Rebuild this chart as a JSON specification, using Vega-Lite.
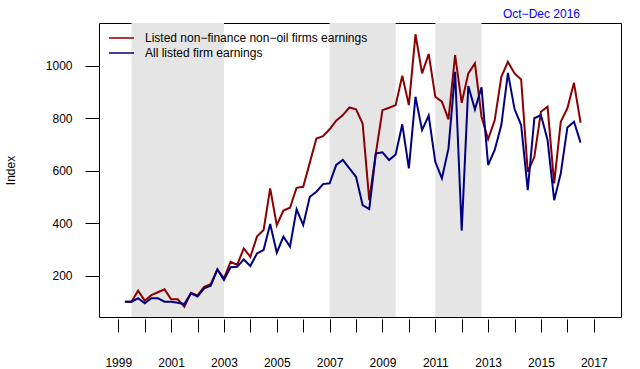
{
  "$schema": "https://vega.github.io/schema/vega-lite/v6.json",
  "width": 522,
  "height": 294,
  "autosize": {"type": "none"},
  "padding": {"left": 99, "top": 23, "right": 19, "bottom": 52},
  "background": "white",
  "config": {"view": {"stroke": "black", "strokeWidth": 1}, "font": "Liberation Sans"},
  "title": {"text": "Oct−Dec 2016", "anchor": "end", "color": "#0000FF", "fontSize": 12, "fontWeight": "normal", "font": "Liberation Sans", "baseline": "bottom", "offset": 4, "dx": -41, "dy": 14},
  "datasets": {
    "shade": [
      {"start": 1999.5, "end": 2003.0},
      {"start": 2007.0, "end": 2009.5},
      {"start": 2011.0, "end": 2012.75}
    ],
    "series": [
      {"s": "Listed non−finance non−oil firms earnings", "t": 1999.25, "v": 101},
      {"s": "Listed non−finance non−oil firms earnings", "t": 1999.5, "v": 101},
      {"s": "Listed non−finance non−oil firms earnings", "t": 1999.75, "v": 143},
      {"s": "Listed non−finance non−oil firms earnings", "t": 2000.0, "v": 105},
      {"s": "Listed non−finance non−oil firms earnings", "t": 2000.25, "v": 126},
      {"s": "Listed non−finance non−oil firms earnings", "t": 2000.5, "v": 137},
      {"s": "Listed non−finance non−oil firms earnings", "t": 2000.75, "v": 148},
      {"s": "Listed non−finance non−oil firms earnings", "t": 2001.0, "v": 110},
      {"s": "Listed non−finance non−oil firms earnings", "t": 2001.25, "v": 110},
      {"s": "Listed non−finance non−oil firms earnings", "t": 2001.5, "v": 82},
      {"s": "Listed non−finance non−oil firms earnings", "t": 2001.75, "v": 135},
      {"s": "Listed non−finance non−oil firms earnings", "t": 2002.0, "v": 125},
      {"s": "Listed non−finance non−oil firms earnings", "t": 2002.25, "v": 158},
      {"s": "Listed non−finance non−oil firms earnings", "t": 2002.5, "v": 168},
      {"s": "Listed non−finance non−oil firms earnings", "t": 2002.75, "v": 224},
      {"s": "Listed non−finance non−oil firms earnings", "t": 2003.0, "v": 190},
      {"s": "Listed non−finance non−oil firms earnings", "t": 2003.25, "v": 253},
      {"s": "Listed non−finance non−oil firms earnings", "t": 2003.5, "v": 241},
      {"s": "Listed non−finance non−oil firms earnings", "t": 2003.75, "v": 304},
      {"s": "Listed non−finance non−oil firms earnings", "t": 2004.0, "v": 272},
      {"s": "Listed non−finance non−oil firms earnings", "t": 2004.25, "v": 349},
      {"s": "Listed non−finance non−oil firms earnings", "t": 2004.5, "v": 374},
      {"s": "Listed non−finance non−oil firms earnings", "t": 2004.75, "v": 533},
      {"s": "Listed non−finance non−oil firms earnings", "t": 2005.0, "v": 393},
      {"s": "Listed non−finance non−oil firms earnings", "t": 2005.25, "v": 448},
      {"s": "Listed non−finance non−oil firms earnings", "t": 2005.5, "v": 459},
      {"s": "Listed non−finance non−oil firms earnings", "t": 2005.75, "v": 535},
      {"s": "Listed non−finance non−oil firms earnings", "t": 2006.0, "v": 539},
      {"s": "Listed non−finance non−oil firms earnings", "t": 2006.25, "v": 631},
      {"s": "Listed non−finance non−oil firms earnings", "t": 2006.5, "v": 723},
      {"s": "Listed non−finance non−oil firms earnings", "t": 2006.75, "v": 732},
      {"s": "Listed non−finance non−oil firms earnings", "t": 2007.0, "v": 758},
      {"s": "Listed non−finance non−oil firms earnings", "t": 2007.25, "v": 791},
      {"s": "Listed non−finance non−oil firms earnings", "t": 2007.5, "v": 812},
      {"s": "Listed non−finance non−oil firms earnings", "t": 2007.75, "v": 841},
      {"s": "Listed non−finance non−oil firms earnings", "t": 2008.0, "v": 834},
      {"s": "Listed non−finance non−oil firms earnings", "t": 2008.25, "v": 780},
      {"s": "Listed non−finance non−oil firms earnings", "t": 2008.5, "v": 488},
      {"s": "Listed non−finance non−oil firms earnings", "t": 2008.75, "v": 666},
      {"s": "Listed non−finance non−oil firms earnings", "t": 2009.0, "v": 831},
      {"s": "Listed non−finance non−oil firms earnings", "t": 2009.25, "v": 840},
      {"s": "Listed non−finance non−oil firms earnings", "t": 2009.5, "v": 850},
      {"s": "Listed non−finance non−oil firms earnings", "t": 2009.75, "v": 962},
      {"s": "Listed non−finance non−oil firms earnings", "t": 2010.0, "v": 850},
      {"s": "Listed non−finance non−oil firms earnings", "t": 2010.25, "v": 1120},
      {"s": "Listed non−finance non−oil firms earnings", "t": 2010.5, "v": 971},
      {"s": "Listed non−finance non−oil firms earnings", "t": 2010.75, "v": 1045},
      {"s": "Listed non−finance non−oil firms earnings", "t": 2011.0, "v": 882},
      {"s": "Listed non−finance non−oil firms earnings", "t": 2011.25, "v": 863},
      {"s": "Listed non−finance non−oil firms earnings", "t": 2011.5, "v": 796},
      {"s": "Listed non−finance non−oil firms earnings", "t": 2011.75, "v": 1041},
      {"s": "Listed non−finance non−oil firms earnings", "t": 2012.0, "v": 859},
      {"s": "Listed non−finance non−oil firms earnings", "t": 2012.25, "v": 971},
      {"s": "Listed non−finance non−oil firms earnings", "t": 2012.5, "v": 1009},
      {"s": "Listed non−finance non−oil firms earnings", "t": 2012.75, "v": 806},
      {"s": "Listed non−finance non−oil firms earnings", "t": 2013.0, "v": 720},
      {"s": "Listed non−finance non−oil firms earnings", "t": 2013.25, "v": 793},
      {"s": "Listed non−finance non−oil firms earnings", "t": 2013.5, "v": 958},
      {"s": "Listed non−finance non−oil firms earnings", "t": 2013.75, "v": 1015},
      {"s": "Listed non−finance non−oil firms earnings", "t": 2014.0, "v": 971},
      {"s": "Listed non−finance non−oil firms earnings", "t": 2014.25, "v": 948},
      {"s": "Listed non−finance non−oil firms earnings", "t": 2014.5, "v": 596},
      {"s": "Listed non−finance non−oil firms earnings", "t": 2014.75, "v": 653},
      {"s": "Listed non−finance non−oil firms earnings", "t": 2015.0, "v": 825},
      {"s": "Listed non−finance non−oil firms earnings", "t": 2015.25, "v": 844},
      {"s": "Listed non−finance non−oil firms earnings", "t": 2015.5, "v": 552},
      {"s": "Listed non−finance non−oil firms earnings", "t": 2015.75, "v": 787},
      {"s": "Listed non−finance non−oil firms earnings", "t": 2016.0, "v": 838},
      {"s": "Listed non−finance non−oil firms earnings", "t": 2016.25, "v": 935},
      {"s": "Listed non−finance non−oil firms earnings", "t": 2016.5, "v": 783},
      {"s": "All listed firm earnings", "t": 1999.25, "v": 101},
      {"s": "All listed firm earnings", "t": 1999.5, "v": 101},
      {"s": "All listed firm earnings", "t": 1999.75, "v": 114},
      {"s": "All listed firm earnings", "t": 2000.0, "v": 95},
      {"s": "All listed firm earnings", "t": 2000.25, "v": 114},
      {"s": "All listed firm earnings", "t": 2000.5, "v": 114},
      {"s": "All listed firm earnings", "t": 2000.75, "v": 101},
      {"s": "All listed firm earnings", "t": 2001.0, "v": 101},
      {"s": "All listed firm earnings", "t": 2001.25, "v": 97},
      {"s": "All listed firm earnings", "t": 2001.5, "v": 92},
      {"s": "All listed firm earnings", "t": 2001.75, "v": 133},
      {"s": "All listed firm earnings", "t": 2002.0, "v": 121},
      {"s": "All listed firm earnings", "t": 2002.25, "v": 152},
      {"s": "All listed firm earnings", "t": 2002.5, "v": 162},
      {"s": "All listed firm earnings", "t": 2002.75, "v": 224},
      {"s": "All listed firm earnings", "t": 2003.0, "v": 184},
      {"s": "All listed firm earnings", "t": 2003.25, "v": 232},
      {"s": "All listed firm earnings", "t": 2003.5, "v": 234},
      {"s": "All listed firm earnings", "t": 2003.75, "v": 262},
      {"s": "All listed firm earnings", "t": 2004.0, "v": 237},
      {"s": "All listed firm earnings", "t": 2004.25, "v": 285},
      {"s": "All listed firm earnings", "t": 2004.5, "v": 298},
      {"s": "All listed firm earnings", "t": 2004.75, "v": 397},
      {"s": "All listed firm earnings", "t": 2005.0, "v": 288},
      {"s": "All listed firm earnings", "t": 2005.25, "v": 349},
      {"s": "All listed firm earnings", "t": 2005.5, "v": 311},
      {"s": "All listed firm earnings", "t": 2005.75, "v": 453},
      {"s": "All listed firm earnings", "t": 2006.0, "v": 393},
      {"s": "All listed firm earnings", "t": 2006.25, "v": 501},
      {"s": "All listed firm earnings", "t": 2006.5, "v": 520},
      {"s": "All listed firm earnings", "t": 2006.75, "v": 549},
      {"s": "All listed firm earnings", "t": 2007.0, "v": 552},
      {"s": "All listed firm earnings", "t": 2007.25, "v": 622},
      {"s": "All listed firm earnings", "t": 2007.5, "v": 641},
      {"s": "All listed firm earnings", "t": 2007.75, "v": 609},
      {"s": "All listed firm earnings", "t": 2008.0, "v": 577},
      {"s": "All listed firm earnings", "t": 2008.25, "v": 469},
      {"s": "All listed firm earnings", "t": 2008.5, "v": 454},
      {"s": "All listed firm earnings", "t": 2008.75, "v": 666},
      {"s": "All listed firm earnings", "t": 2009.0, "v": 670},
      {"s": "All listed firm earnings", "t": 2009.25, "v": 641},
      {"s": "All listed firm earnings", "t": 2009.5, "v": 662},
      {"s": "All listed firm earnings", "t": 2009.75, "v": 777},
      {"s": "All listed firm earnings", "t": 2010.0, "v": 609},
      {"s": "All listed firm earnings", "t": 2010.25, "v": 882},
      {"s": "All listed firm earnings", "t": 2010.5, "v": 755},
      {"s": "All listed firm earnings", "t": 2010.75, "v": 810},
      {"s": "All listed firm earnings", "t": 2011.0, "v": 634},
      {"s": "All listed firm earnings", "t": 2011.25, "v": 571},
      {"s": "All listed firm earnings", "t": 2011.5, "v": 685},
      {"s": "All listed firm earnings", "t": 2011.75, "v": 977},
      {"s": "All listed firm earnings", "t": 2012.0, "v": 372},
      {"s": "All listed firm earnings", "t": 2012.25, "v": 923},
      {"s": "All listed firm earnings", "t": 2012.5, "v": 834},
      {"s": "All listed firm earnings", "t": 2012.75, "v": 918},
      {"s": "All listed firm earnings", "t": 2013.0, "v": 622},
      {"s": "All listed firm earnings", "t": 2013.25, "v": 679},
      {"s": "All listed firm earnings", "t": 2013.5, "v": 774},
      {"s": "All listed firm earnings", "t": 2013.75, "v": 973},
      {"s": "All listed firm earnings", "t": 2014.0, "v": 835},
      {"s": "All listed firm earnings", "t": 2014.25, "v": 774},
      {"s": "All listed firm earnings", "t": 2014.5, "v": 526},
      {"s": "All listed firm earnings", "t": 2014.75, "v": 800},
      {"s": "All listed firm earnings", "t": 2015.0, "v": 812},
      {"s": "All listed firm earnings", "t": 2015.25, "v": 717},
      {"s": "All listed firm earnings", "t": 2015.5, "v": 488},
      {"s": "All listed firm earnings", "t": 2015.75, "v": 590},
      {"s": "All listed firm earnings", "t": 2016.0, "v": 765},
      {"s": "All listed firm earnings", "t": 2016.25, "v": 787},
      {"s": "All listed firm earnings", "t": 2016.5, "v": 707}
    ]
  },
  "layer": [
    {
      "data": {"name": "shade"},
      "mark": {"type": "rect", "color": "#e5e5e5"},
      "encoding": {
        "x": {"field": "start", "type": "quantitative", "scale": {"domain": [1998.27, 2018.03], "nice": false, "zero": false},
          "axis": {"title": null, "values": [1999,2000,2001,2002,2003,2004,2005,2006,2007,2008,2009,2010,2011,2012,2013,2014,2015,2016,2017], "format": "d", "labelExpr": "datum.value % 2 == 1 ? datum.label : ''", "domain": false, "grid": false, "tickSize": 13, "tickColor": "black", "tickWidth": 1, "offset": 2, "labelPadding": 25, "labelFontSize": 12, "labelColor": "black", "labelFont": "Liberation Sans", "labelOverlap": false, "labelFlush": false, "labelBound": false}},
        "x2": {"field": "end"}
      }
    },
    {
      "data": {"name": "series"},
      "mark": {"type": "line", "strokeWidth": 2},
      "encoding": {
        "x": {"field": "t", "type": "quantitative", "scale": {"domain": [1998.27, 2018.03], "nice": false, "zero": false},
          "axis": {"title": null, "values": [1999,2000,2001,2002,2003,2004,2005,2006,2007,2008,2009,2010,2011,2012,2013,2014,2015,2016,2017], "format": "d", "labelExpr": "datum.value % 2 == 1 ? datum.label : ''", "domain": false, "grid": false, "tickSize": 13, "tickColor": "black", "tickWidth": 1, "offset": 2, "labelPadding": 25, "labelFontSize": 12, "labelColor": "black", "labelFont": "Liberation Sans", "labelOverlap": false, "labelFlush": false, "labelBound": false}},
        "y": {"field": "v", "type": "quantitative", "scale": {"domain": [42.7, 1163], "nice": false, "zero": false},
          "axis": {"title": "Index", "values": [200, 400, 600, 800, 1000], "format": "d", "domain": false, "grid": false, "tickSize": 14, "tickColor": "black", "tickWidth": 1, "labelPadding": 13, "labelFontSize": 12, "labelColor": "black", "labelFont": "Liberation Sans", "titleFont": "Liberation Sans", "titleFontSize": 12, "titleFontWeight": "normal", "titleColor": "black", "titleX": -89, "titleBaseline": "middle"}},
        "color": {"field": "s", "type": "nominal",
          "scale": {"domain": ["Listed non−finance non−oil firms earnings", "All listed firm earnings"], "range": ["#8B0000", "#000080"]},
          "legend": {"title": null, "orient": "none", "legendX": 16.5, "legendY": 9, "padding": 0, "symbolType": "M-2.5,0H2.5", "symbolSize": 100, "symbolStrokeWidth": 1.5, "labelOffset": 17.5, "labelFontSize": 12, "labelColor": "black", "labelFont": "Liberation Sans", "labelLimit": 0, "rowPadding": 3}}
      }
    }
  ]
}
